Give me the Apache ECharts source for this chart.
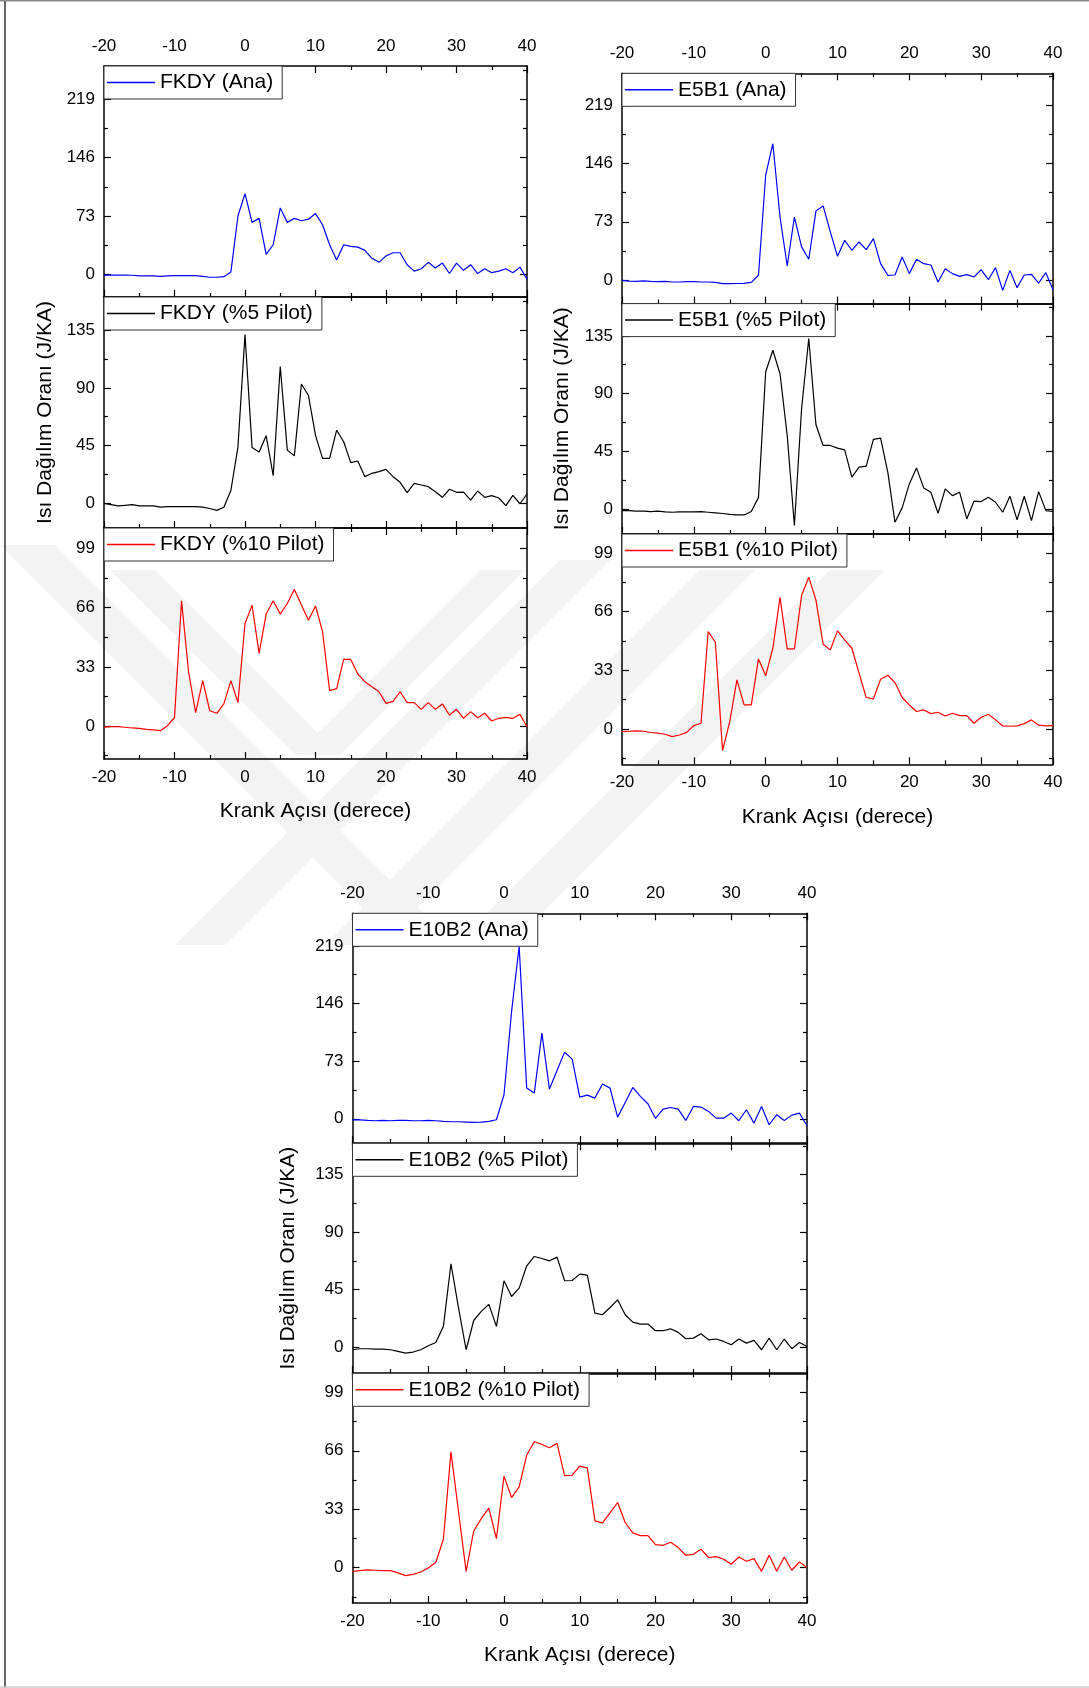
<!DOCTYPE html>
<html><head><meta charset="utf-8">
<script src="https://cdn.jsdelivr.net/npm/echarts@6/dist/echarts.min.js"></script>
<style>html,body{margin:0;padding:0;background:#fff}#c{width:1089px;height:1688px}</style>
</head><body><div id="c"></div>
<script>
// ---------- data ----------
const angles = [-20,-19,-18,-17,-16,-15,-14,-13,-12,-11,-10,-9,-8,-7,-6,-5,-4,-3,-2,-1,0,1,2,3,4,5,6,7,8,9,10,11,12,13,14,15,16,17,18,19,20,21,22,23,24,25,26,27,28,29,30,31,32,33,34,35,36,37,38,39,40];

const anaTicks = [0, 73, 146, 219];
const anaMinorTicks = [36.5, 109.5, 182.5, 255.5];
const p5Ticks = [0, 45, 90, 135];
const p5MinorTicks = [22.5, 67.5, 112.5, 157.5];
const p10Ticks = [0, 33, 66, 99];
const p10MinorTicks = [-16.5, 16.5, 49.5, 82.5];

const fkdyNames = ['FKDY (Ana)', 'FKDY (%5 Pilot)', 'FKDY (%10 Pilot)'];
const e5b1Names = ['E5B1 (Ana)', 'E5B1 (%5 Pilot)', 'E5B1 (%10 Pilot)'];
const e10b2Names = ['E10B2 (Ana)', 'E10B2 (%5 Pilot)', 'E10B2 (%10 Pilot)'];
const xAxisName = 'Krank Açısı (derece)';
const yAxisName = 'Isı Dağılım Oranı (J/KA)';

const fkdyAna = [-1,-1,-1,-1,-1.2,-2,-2,-2,-2.5,-2,-1.7,-1.7,-1.7,-1.7,-2.5,-3.7,-3.7,-3,3,73,101,65,70,25,37,83,65,70,67,69,76,62,37,18,37,35,34,30,20,15,23,27,27,12,4,7,15,8,14,1,14,5,12,1,7,2,4,7,2,9,-6];
const fkdyP5 = [0,-1,-2,-1.5,-1,-2,-2,-2,-3,-2.5,-2.5,-2.5,-2.5,-2.5,-3,-4,-5.5,-3,10,44,131.6,43.6,40,52.7,21.5,106.7,41.5,37,93,84,53,35,35,57,48,31.7,33,20.8,23.4,24.7,26.5,20.8,16.4,8.3,15.6,14.3,13,9,4.7,11,8.6,8.8,2.6,9.6,4.7,6,4.2,-1.8,6.2,-0.3,7.3];
const fkdyP10 = [-0.6,-0.4,-0.4,-0.7,-1.1,-1.3,-1.9,-2.2,-2.6,0.2,4.6,69.8,30,7.4,25.3,8.5,7.1,12.3,25.3,13,57.2,67.4,40.5,62.4,69.8,62.4,68.3,76.1,67.4,59,66.9,52.6,19.7,20.8,37.1,37.1,29,24.7,21.9,19.1,12.6,13.7,19.1,13,13,9.3,13,9.3,12.3,6.1,9.3,4.3,8,4.6,7.1,2.8,4.3,4.8,4.3,6.5,-0.4];

const e5b1Ana = [-0.4,-1.3,-1.7,-1,-1.7,-2,-1.7,-2.5,-2.5,-2,-2,-2.5,-2.5,-3,-4.6,-4.6,-4.4,-4.2,-3,5.9,131.5,171,79,17.6,79,41.5,26,86.7,93,60.3,29.7,49.8,37.3,47.7,38.1,51.9,20.5,5.9,6.3,28.9,8,26,20.5,18.8,-2.5,14.2,8,4.6,6.7,3.8,13,0.4,15.5,-13,12.1,-9.6,6.3,7.1,-3.8,9.2,-12.1];
const e5b1P5 = [-1.3,-1.3,-1.8,-1.8,-2.1,-1.8,-2.3,-2.6,-2.3,-2.3,-2.3,-2.1,-2.6,-3.1,-3.6,-4.2,-4.7,-4.7,-2,9,106.8,123.8,105.5,57.3,-13,78.2,133,65.7,49.5,49.5,47.4,46.1,24.8,32.6,33.4,54.2,55.2,28.7,-10.4,0.8,19.5,32,16.4,13,-3.4,15.6,10.4,13,-7.8,6,5.7,9.1,5.2,-2.6,9.9,-8.6,9.9,-9.1,13.5,-1.3,-2];
const e5b1P10 = [-1.5,-1.3,-1.1,-1.3,-2,-2.4,-3,-4.3,-3.4,-1.9,1.9,3.2,54.8,48.8,-12.2,4.1,27.6,13.5,13.5,39.4,29.9,45.4,74,45,45,75.1,85.4,72.5,47.7,44.5,55.2,50.1,45.4,31.4,17.7,16.9,28,30.2,26.1,17.7,13.5,9.8,10.7,8.6,9.4,7.3,8.8,7.5,7.5,3.2,6.6,8.3,5.1,1.7,1.5,1.7,3,5.1,2.1,1.7,1.9];

const e10b2Ana = [-1.3,-1.3,-2.1,-2.5,-2.1,-2.5,-2.1,-2.1,-2.5,-2.5,-2.1,-2.5,-3.4,-3.8,-3.8,-4.2,-4.6,-4.2,-3.4,-1.3,30.4,135.9,218.2,38.8,32.5,108.5,37.6,61.2,84.4,75.5,27.4,30,26.2,43.9,38.8,2.1,20.7,39.7,28.3,19,0.4,12.2,14.3,12.2,-2.1,15.6,14.8,9.3,0.8,0.8,7.2,-2.5,11.4,-5.5,15.6,-7.6,5.1,-2.1,4.6,7.2,-8.9];
const e10b2P5 = [-2.1,-1.3,-1.3,-1.6,-1.6,-2.1,-3.4,-4.7,-3.9,-2.1,1,3.6,16.2,65.2,30.5,-2.1,20.8,27.9,33.4,16.2,51.9,39.6,46.1,63.6,70.9,69.3,67.5,70.4,51.9,52.1,57.1,56.3,26.6,25.3,31,37,25.3,19.5,18,18,12.8,12.8,14.3,11.5,6.5,7,10.4,5.7,6.3,4.4,1.8,6.3,3.1,5.2,-2.1,7,-2.1,6.3,-1.3,3.6,0.5];
const e10b2P10 = [-2.1,-1.7,-1.3,-1.5,-1.7,-1.7,-3,-4.5,-3.8,-2.5,-0.2,3,16,65.4,31.5,-2.1,20.7,27.7,33.6,16.4,51.7,39.6,45.6,63.6,71.1,69.6,67.7,70.2,52,52.2,57.3,56.4,26.4,25.3,30.9,36.8,25.5,19.6,18.1,18.1,13,12.6,14.3,11.3,7,7.5,10.4,5.7,6.2,4.7,1.9,6,3.6,5.1,-2.1,7,-2.1,6,-1.5,3.2,0];

// ---------- layout ----------
const FONT = "'Liberation Sans', Arial, Helvetica, sans-serif";
const colors = ['#0000ff', '#000000', '#ff0000'];
const majorTicks = [anaTicks, p5Ticks, p10Ticks];
const minorTicks = [anaMinorTicks, p5MinorTicks, p10MinorTicks];

const panels = [
  {left:104, width:423, tops:[66,297,528], height:231,
   ranges:[[-28.4,260.7],[-19.2,160.8],[-18.4,110.4]], yNameGap:48,
   names:fkdyNames, data:[fkdyAna,fkdyP5,fkdyP10]},
  {left:622, width:431, tops:[73.3,303.6,534], height:230.3,
   ranges:[[-29.6,259.3],[-19.5,160.2],[-19.9,109.7]], yNameGap:49,
   names:e5b1Names, data:[e5b1Ana,e5b1P5,e5b1P10]},
  {left:352.5, width:454.5, tops:[913.3,1143.3,1373.3], height:229.7,
   ranges:[[-30.7,260.2],[-20.3,159.5],[-20,109.8]], yNameGap:54,
   names:e10b2Names, data:[e10b2Ana,e10b2P5,e10b2P10]}
];

const grid = [], xAxis = [], yAxis = [], series = [], legend = [];
const axisLine = {show:true, onZero:false, lineStyle:{color:'#000', width:1.5}};
const noLine = {show:false, onZero:false};
const tickStyle = {color:'#000', width:1.2};
const labelStyle = {color:'#000', fontSize:17, fontFamily:FONT};

panels.forEach((p) => {
  for (let k = 0; k < 3; k++) {
    const g = grid.length;
    grid.push({left:p.left, top:p.tops[k], width:p.width, height:p.height,
               containLabel:false, outerBoundsMode:'none'});
    const xa = xAxis.length, ya = yAxis.length;
    const xCommon = {type:'value', gridIndex:g, min:-20, max:40, interval:10,
      axisLine:axisLine, splitLine:{show:false},
      axisTick:{show:true, inside:true, length:7, lineStyle:tickStyle},
      minorTick:{show:true, splitNumber:2, length:4, lineStyle:tickStyle}};
    xAxis.push(Object.assign({}, xCommon, {position:'bottom',
      axisLabel:Object.assign({show:k===2, margin:9.5}, labelStyle),
      name:k===2 ? xAxisName : '', nameLocation:'middle', nameGap:42,
      nameTextStyle:{color:'#000', fontSize:21, fontFamily:FONT}}));
    xAxis.push(Object.assign({}, xCommon, {position:'top',
      axisLabel:Object.assign({show:k===0, margin:11.5}, labelStyle)}));
    const [mn, mx] = p.ranges[k];
    const yBase = {type:'value', gridIndex:g, min:mn, max:mx, splitLine:{show:false}};
    // left major
    yAxis.push(Object.assign({}, yBase, {position:'left', axisLine:axisLine,
      axisTick:{show:true, inside:true, length:7, lineStyle:tickStyle, customValues:majorTicks[k]},
      axisLabel:Object.assign({show:true, margin:9, customValues:majorTicks[k]}, labelStyle),
      name:k===1 ? yAxisName : '', nameLocation:'middle', nameRotate:90, nameGap:p.yNameGap,
      nameTextStyle:{color:'#000', fontSize:21, fontFamily:FONT}}));
    // left minor
    yAxis.push(Object.assign({}, yBase, {position:'left', axisLine:noLine,
      axisTick:{show:true, inside:true, length:4, lineStyle:tickStyle, customValues:minorTicks[k]},
      axisLabel:{show:false}}));
    // right major
    yAxis.push(Object.assign({}, yBase, {position:'right', axisLine:axisLine,
      axisTick:{show:true, inside:true, length:7, lineStyle:tickStyle, customValues:majorTicks[k]},
      axisLabel:{show:false}}));
    // right minor
    yAxis.push(Object.assign({}, yBase, {position:'right', axisLine:noLine,
      axisTick:{show:true, inside:true, length:4, lineStyle:tickStyle, customValues:minorTicks[k]},
      axisLabel:{show:false}}));

    const vals = p.data[k];
    series.push({type:'line', name:p.names[k], xAxisIndex:xa, yAxisIndex:ya,
      data:angles.map((a, i) => [a, vals[i]]), symbol:'none', showSymbol:false,
      color:colors[k], lineStyle:{color:colors[k], width:1.2}, animation:false, z:3});
    legend.push({data:[p.names[k]], left:p.left, top:p.tops[k], orient:'horizontal',
      selectedMode:false, icon:'rect', itemWidth:48, itemHeight:1.5, itemGap:0,
      padding:[6,9,6,3], borderColor:'#333', borderWidth:1, backgroundColor:'#fff',
      textStyle:{color:'#000', fontSize:21, fontFamily:FONT}, z:5});
  }
});

// faint watermark bands and page frame (decoration only)
const wm = '#f3f3f3';
const bands = [
  [[0,545],[55,545],[455,945],[400,945]],
  [[110,570],[155,570],[318,733],[296,755]],
  [[480,570],[525,570],[340,755],[296,755]],
  [[560,560],[610,560],[225,945],[175,945]],
  [[700,570],[755,570],[380,945],[325,945]],
  [[830,570],[885,570],[510,945],[455,945]]
];
const graphic = bands.map(pts => ({type:'polygon', shape:{points:pts}, style:{fill:wm}, z:-10, silent:true}));
graphic.push({type:'line', shape:{x1:5, y1:0, x2:5, y2:1688}, style:{stroke:'#333', lineWidth:1.5}, z:-5, silent:true});
graphic.push({type:'line', shape:{x1:0, y1:0.75, x2:1089, y2:0.75}, style:{stroke:'#888', lineWidth:1.5}, z:-5, silent:true});
graphic.push({type:'line', shape:{x1:0, y1:1687, x2:1089, y2:1687}, style:{stroke:'#ccc', lineWidth:1.5}, z:-5, silent:true});

const chart = echarts.init(document.getElementById('c'), null, {renderer:'canvas'});
chart.setOption({
  backgroundColor:'#ffffff', animation:false,
  textStyle:{fontFamily:FONT},
  grid, xAxis, yAxis, series, legend, graphic
});
</script>
</body></html>
